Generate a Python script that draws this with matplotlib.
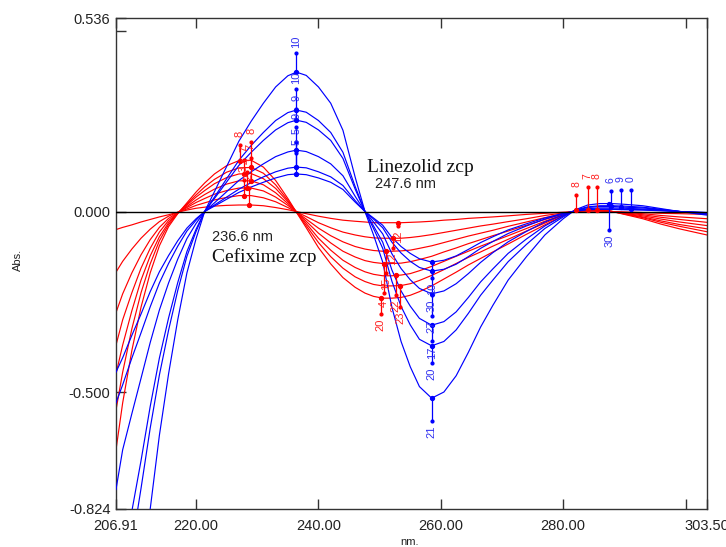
import numpy as np
import matplotlib
matplotlib.use("Agg")
import matplotlib.pyplot as plt

# ---------------- data ----------------
wavelength = [206.91, 208, 209.5, 211, 212.5, 214, 215.5, 217, 218.5, 220,
              221.4, 223, 225, 227, 229, 231, 233, 235, 236.4, 238,
              240, 242, 244, 246, 247.6, 249, 250.5, 252, 253.5, 255,
              256.5, 258.5, 260.5, 262.5, 264.5, 266.5, 268.5, 271, 274, 277,
              280, 282, 284, 286, 288, 290, 293, 296, 299, 303.5]

# Linezolid (blue) derivative spectra
blue_1 = [-1.70, -1.50, -1.27, -1.05, -0.824, -0.62, -0.45, -0.30, -0.17, -0.075,
          0.0, 0.055, 0.125, 0.195, 0.25, 0.30, 0.345, 0.376, 0.386, 0.377,
          0.345, 0.30, 0.225, 0.095, 0.0, -0.065, -0.14, -0.265, -0.36, -0.43,
          -0.485, -0.517, -0.50, -0.455, -0.39, -0.32, -0.26, -0.19, -0.125, -0.065,
          -0.02, 0.005, 0.018, 0.022, 0.022, 0.02, 0.016, 0.008, 0.0, -0.01]
blue_2 = [-1.24, -1.095, -0.927, -0.767, -0.60, -0.453, -0.329, -0.219, -0.124, -0.055,
          0.0, 0.040, 0.091, 0.142, 0.183, 0.219, 0.252, 0.274, 0.281, 0.275,
          0.252, 0.219, 0.164, 0.069, 0.0, -0.047, -0.102, -0.193, -0.263, -0.314,
          -0.354, -0.372, -0.36, -0.328, -0.282, -0.232, -0.19, -0.139, -0.091, -0.047,
          -0.015, 0.004, 0.013, 0.016, 0.016, 0.015, 0.012, 0.006, 0.0, -0.007]
blue_3 = [-1.11, -0.98, -0.83, -0.69, -0.54, -0.406, -0.295, -0.197, -0.111, -0.049,
          0.0, 0.036, 0.082, 0.128, 0.164, 0.197, 0.226, 0.246, 0.253, 0.247,
          0.226, 0.197, 0.147, 0.062, 0.0, -0.040, -0.085, -0.162, -0.22, -0.262,
          -0.296, -0.315, -0.305, -0.278, -0.238, -0.195, -0.159, -0.116, -0.076, -0.04,
          -0.012, 0.003, 0.011, 0.014, 0.014, 0.012, 0.01, 0.005, 0.0, -0.006]
blue_4 = [-0.77, -0.66, -0.56, -0.462, -0.363, -0.273, -0.198, -0.132, -0.075, -0.033,
          0.0, 0.024, 0.055, 0.086, 0.11, 0.132, 0.152, 0.165, 0.17, 0.166,
          0.152, 0.132, 0.099, 0.042, 0.0, -0.029, -0.062, -0.117, -0.158, -0.189,
          -0.213, -0.228, -0.22, -0.20, -0.172, -0.141, -0.114, -0.084, -0.055, -0.029,
          -0.009, 0.002, 0.008, 0.01, 0.01, 0.009, 0.007, 0.004, 0.0, -0.004]
blue_5 = [-0.53, -0.48, -0.406, -0.336, -0.264, -0.198, -0.144, -0.096, -0.054, -0.024,
          0.0, 0.018, 0.04, 0.062, 0.08, 0.096, 0.11, 0.12, 0.123, 0.121,
          0.11, 0.096, 0.072, 0.03, 0.0, -0.021, -0.045, -0.085, -0.115, -0.138,
          -0.155, -0.165, -0.16, -0.146, -0.125, -0.102, -0.083, -0.061, -0.04, -0.021,
          -0.006, 0.002, 0.006, 0.007, 0.007, 0.006, 0.005, 0.003, 0.0, -0.003]
blue_6 = [-0.445, -0.405, -0.343, -0.284, -0.222, -0.167, -0.122, -0.081, -0.046, -0.02,
          0.0, 0.015, 0.034, 0.053, 0.068, 0.081, 0.093, 0.102, 0.104, 0.102,
          0.093, 0.081, 0.061, 0.026, 0.0, -0.018, -0.038, -0.072, -0.097, -0.116,
          -0.131, -0.14, -0.135, -0.123, -0.105, -0.086, -0.07, -0.051, -0.034, -0.018,
          -0.005, 0.001, 0.005, 0.006, 0.006, 0.005, 0.004, 0.002, 0.0, -0.003]

# Cefixime (red) derivative spectra
red_1 = [-0.66, -0.53, -0.385, -0.265, -0.17, -0.095, -0.042, -0.006, 0.024, 0.054,
         0.079, 0.104, 0.127, 0.141, 0.142, 0.123, 0.086, 0.036, -0.002, -0.045,
         -0.10, -0.145, -0.183, -0.21, -0.226, -0.235, -0.24, -0.24, -0.238, -0.232,
         -0.222, -0.206, -0.187, -0.168, -0.148, -0.13, -0.112, -0.09, -0.063, -0.037,
         -0.012, 0.003, 0.006, 0.005, 0.0, -0.008, -0.02, -0.035, -0.048, -0.065]
red_2 = [-0.55, -0.445, -0.325, -0.225, -0.145, -0.081, -0.036, -0.005, 0.021, 0.046,
         0.068, 0.089, 0.109, 0.121, 0.122, 0.106, 0.074, 0.031, -0.002, -0.039,
         -0.086, -0.125, -0.157, -0.181, -0.194, -0.202, -0.206, -0.206, -0.205, -0.2,
         -0.191, -0.177, -0.161, -0.144, -0.127, -0.112, -0.096, -0.077, -0.054, -0.032,
         -0.01, 0.003, 0.005, 0.004, 0.0, -0.007, -0.017, -0.03, -0.041, -0.056]
red_3 = [-0.45, -0.37, -0.275, -0.19, -0.123, -0.07, -0.031, -0.004, 0.018, 0.04,
         0.058, 0.077, 0.094, 0.104, 0.105, 0.091, 0.064, 0.027, -0.001, -0.033,
         -0.074, -0.107, -0.135, -0.155, -0.167, -0.174, -0.178, -0.178, -0.176, -0.172,
         -0.164, -0.152, -0.138, -0.124, -0.11, -0.096, -0.083, -0.067, -0.047, -0.027,
         -0.009, 0.002, 0.004, 0.004, 0.0, -0.006, -0.015, -0.026, -0.036, -0.048]
red_4 = [-0.37, -0.3, -0.225, -0.157, -0.102, -0.057, -0.025, -0.004, 0.014, 0.032,
         0.047, 0.062, 0.076, 0.085, 0.085, 0.074, 0.052, 0.022, -0.001, -0.027,
         -0.06, -0.087, -0.11, -0.126, -0.136, -0.141, -0.144, -0.144, -0.143, -0.139,
         -0.133, -0.124, -0.112, -0.101, -0.089, -0.078, -0.067, -0.054, -0.038, -0.022,
         -0.007, 0.002, 0.004, 0.003, 0.0, -0.005, -0.012, -0.021, -0.029, -0.039]
red_5 = [-0.28, -0.228, -0.17, -0.12, -0.078, -0.044, -0.019, -0.003, 0.011, 0.025,
         0.036, 0.048, 0.058, 0.065, 0.065, 0.057, 0.04, 0.017, -0.001, -0.021,
         -0.046, -0.067, -0.084, -0.097, -0.104, -0.108, -0.11, -0.11, -0.109, -0.107,
         -0.102, -0.095, -0.086, -0.077, -0.068, -0.06, -0.052, -0.041, -0.029, -0.017,
         -0.006, 0.001, 0.003, 0.002, 0.0, -0.004, -0.009, -0.016, -0.022, -0.03]
red_6 = [-0.168, -0.138, -0.104, -0.074, -0.049, -0.028, -0.013, -0.002, 0.007, 0.017,
         0.024, 0.032, 0.039, 0.044, 0.044, 0.038, 0.027, 0.011, -0.001, -0.014,
         -0.031, -0.045, -0.057, -0.065, -0.07, -0.073, -0.074, -0.074, -0.074, -0.072,
         -0.069, -0.064, -0.058, -0.052, -0.046, -0.04, -0.035, -0.028, -0.02, -0.011,
         -0.004, 0.001, 0.002, 0.002, 0.0, -0.003, -0.006, -0.011, -0.015, -0.02]
red_7 = [-0.05, -0.044, -0.037, -0.029, -0.022, -0.015, -0.009, -0.002, 0.004, 0.009,
         0.012, 0.015, 0.017, 0.018, 0.018, 0.016, 0.011, 0.005, 0.0, -0.006,
         -0.013, -0.019, -0.024, -0.027, -0.029, -0.031, -0.031, -0.031, -0.031, -0.03,
         -0.029, -0.027, -0.024, -0.022, -0.019, -0.017, -0.015, -0.012, -0.008, -0.005,
         -0.002, 0.0, 0.001, 0.001, 0.0, -0.001, -0.003, -0.005, -0.006, -0.008]

blue_series = [blue_1, blue_2, blue_3, blue_4, blue_5, blue_6]
red_series = [red_1, red_2, red_3, red_4, red_5, red_6, red_7]

# peak-pick annotations
blue_peak_nm = [236.4, 236.4, 236.4, 236.4, 236.4, 236.4]
blue_peak_labels = ["10", "10", "9", "9", "5", "5"]
blue_peak_text = [0.47, 0.37, 0.315, 0.265, 0.222, 0.192]

blue_trough_nm = [258.5, 258.5, 258.5, 258.5, 258.5, 258.5]
blue_trough_labels = ["21", "20", "17", "27", "30", "10"]
blue_trough_text = [-0.61, -0.45, -0.39, -0.32, -0.262, -0.215]

red_peak_nm = [227.1, 229.0, 227.9, 228.9, 228.3, 227.8, 228.6]
red_peak_labels = ["8", "8", "7", "7", "4", "3", "2"]
red_peak_text = [0.215, 0.222, 0.172, 0.178, 0.14, 0.118, 0.095]

red_trough_nm = [250.2, 253.4, 252.6, 250.7, 251.1, 252.1, 253.0]
red_trough_labels = ["20", "23", "22", "4", "15", "12", "12"]
red_trough_text = [-0.314, -0.295, -0.262, -0.255, -0.2, -0.13, -0.07]

right_red_nm = [282.1, 284.0, 285.5]
right_red_series = [0, 1, 2]
right_red_labels = ["8", "7", "8"]
right_red_text = [0.075, 0.097, 0.097]

right_blue_nm = [287.8, 289.4, 291.0]
right_blue_series = [1, 2, 3]
right_blue_labels = ["6", "9", "0"]
right_blue_text = [0.088, 0.09, 0.09]

low_blue_nm = 287.5
low_blue_label = "30"
low_blue_text = -0.08

# ---------------- figure ----------------
BLUE = "#0000ff"
RED = "#ff0000"
BLUE_TXT = "#3030f0"
RED_TXT = "#ff2020"

fig = plt.figure(figsize=(7.26, 5.47), dpi=100)
ax = fig.add_axes([116 / 726, 1 - 509 / 547, 591 / 726, 491 / 547])

for s in red_series:
    ax.plot(wavelength, s, color=RED, lw=0.85, zorder=2)
for s in blue_series:
    ax.plot(wavelength, s, color=BLUE, lw=0.85, zorder=3)

ax.axhline(0.0, color="black", lw=1.0, zorder=4)


def mark(x, series, ytext, label, color, tcolor, up=True, fs=8):
    yc = float(np.interp(x, wavelength, series))
    yend = ytext - 0.03 if up else ytext + 0.03
    ax.plot([x, x], [yc, yend], color=color, lw=0.9, zorder=5)
    ax.plot([x], [yc], "o", ms=2.8, color=color, zorder=5)
    ax.plot([x], [yend], "o", ms=2.0, color=color, zorder=5)
    ax.text(x, ytext, label, rotation=90, ha="center", va="center",
            color=tcolor, fontsize=fs, family="Liberation Sans", zorder=6)


for i, s in enumerate(blue_series):
    mark(blue_peak_nm[i], s, blue_peak_text[i], blue_peak_labels[i], BLUE, BLUE_TXT, True)
    mark(blue_trough_nm[i], s, blue_trough_text[i], blue_trough_labels[i], BLUE, BLUE_TXT, False)
for i, s in enumerate(red_series):
    mark(red_peak_nm[i], s, red_peak_text[i], red_peak_labels[i], RED, RED_TXT, True)
    up = red_trough_text[i] > np.interp(red_trough_nm[i], wavelength, s)
    mark(red_trough_nm[i], s, red_trough_text[i], red_trough_labels[i], RED, RED_TXT, up)
for x, k, lab, yt in zip(right_red_nm, right_red_series, right_red_labels, right_red_text):
    mark(x, red_series[k], yt, lab, RED, RED_TXT, True, fs=7.5)
for x, k, lab, yt in zip(right_blue_nm, right_blue_series, right_blue_labels, right_blue_text):
    mark(x, blue_series[k], yt, lab, BLUE, BLUE_TXT, True, fs=7.5)
mark(low_blue_nm, blue_series[0], low_blue_text, low_blue_label, BLUE, BLUE_TXT, False)

# annotations
ax.text(247.9, 0.109, "Linezolid zcp", family="Liberation Serif", fontsize=14,
        color="#111111", va="baseline", ha="left", zorder=7)
ax.text(249.2, 0.065, "247.6 nm", family="Liberation Sans", fontsize=10.5,
        color="#222222", va="baseline", ha="left", zorder=7)
ax.text(222.6, -0.082, "236.6 nm", family="Liberation Sans", fontsize=10.5,
        color="#222222", va="baseline", ha="left", zorder=7)
ax.text(222.6, -0.14, "Cefixime zcp", family="Liberation Serif", fontsize=14,
        color="#111111", va="baseline", ha="left", zorder=7)

# axes
ax.set_xlim(206.91, 303.5)
ax.set_ylim(-0.824, 0.536)
ax.set_xticks([206.91, 220, 240, 260, 280, 303.5])
ax.set_xticklabels(["206.91", "220.00", "240.00", "260.00", "280.00", "303.50"])
ax.set_xticks([300], minor=True)
ax.set_yticks([-0.824, -0.5, 0.0, 0.536])
ax.set_yticklabels(["-0.824", "-0.500", "0.000", "0.536"])
ax.set_yticks([0.5], minor=True)
ax.tick_params(axis="both", which="both", direction="in", length=7, width=1.0,
               color="#333333", labelcolor="#222222", labelsize=10.5)
ax.tick_params(axis="x", which="both", top=True, pad=7)
ax.tick_params(axis="y", which="both", pad=4)
for lab in ax.get_xticklabels() + ax.get_yticklabels():
    lab.set_family("Liberation Sans")
for sp in ax.spines.values():
    sp.set_linewidth(1.0)
    sp.set_color("#333333")

fig.text(18 / 726, 1 - 260 / 547, "Abs.", rotation=90, ha="center", va="center",
         fontsize=8, family="Liberation Sans", color="#222222")
fig.text(410 / 726, 1 - 542 / 547, "nm.", ha="center", va="center",
         fontsize=8, family="Liberation Sans", color="#222222")

fig.savefig("out.png", dpi=100)
